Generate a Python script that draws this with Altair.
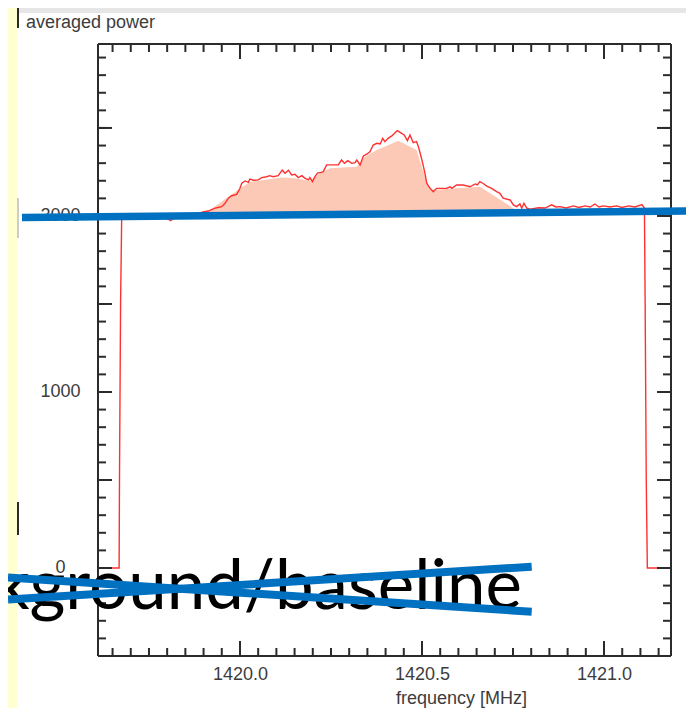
import altair as alt
import pandas as pd

# ---- data ----
freq = [1419.610, 1419.668, 1419.669, 1419.672, 1419.675, 1419.684, 1419.725, 1419.766, 1419.797, 1419.810,
        1419.821, 1419.849, 1419.876, 1419.898, 1419.913, 1419.927, 1419.936, 1419.950, 1419.959, 1419.968,
        1419.977, 1419.991, 1420.000, 1420.005, 1420.014, 1420.023, 1420.027, 1420.037, 1420.050, 1420.060,
        1420.073, 1420.082, 1420.091, 1420.105, 1420.116, 1420.124, 1420.133, 1420.142, 1420.151, 1420.160,
        1420.170, 1420.179, 1420.188, 1420.192, 1420.199, 1420.206, 1420.213, 1420.223, 1420.229, 1420.238,
        1420.256, 1420.270, 1420.279, 1420.287, 1420.296, 1420.307, 1420.316, 1420.321, 1420.330, 1420.339,
        1420.348, 1420.357, 1420.366, 1420.376, 1420.385, 1420.392, 1420.398, 1420.407, 1420.417, 1420.426,
        1420.432, 1420.441, 1420.451, 1420.460, 1420.467, 1420.476, 1420.485, 1420.490, 1420.495, 1420.502,
        1420.508, 1420.513, 1420.522, 1420.531, 1420.540, 1420.568, 1420.577, 1420.582, 1420.595, 1420.613,
        1420.632, 1420.646, 1420.652, 1420.659, 1420.667, 1420.678, 1420.691, 1420.705, 1420.714, 1420.723,
        1420.742, 1420.751, 1420.760, 1420.769, 1420.774, 1420.780, 1420.788, 1420.797, 1420.820, 1420.838,
        1420.856, 1420.868, 1420.879, 1420.896, 1420.916, 1420.931, 1420.948, 1420.962, 1420.975, 1420.986,
        1420.998, 1421.016, 1421.035, 1421.049, 1421.067, 1421.085, 1421.104, 1421.111, 1421.113, 1421.116,
        1421.119, 1421.184]
power = [0, 0, 500, 1500, 1980, 1989, 1994, 1994, 1989, 1973,
         1994, 2000, 2006, 2023, 2028, 2040, 2047, 2053, 2072, 2101,
         2115, 2123, 2157, 2186, 2199, 2191, 2210, 2203, 2205, 2218,
         2223, 2229, 2223, 2229, 2260, 2243, 2260, 2233, 2237, 2218,
         2229, 2214, 2205, 2218, 2195, 2223, 2243, 2248, 2252, 2290,
         2290, 2290, 2318, 2299, 2314, 2299, 2303, 2318, 2290, 2341,
         2351, 2365, 2403, 2413, 2409, 2441, 2422, 2441, 2455, 2473,
         2485, 2473, 2460, 2428, 2460, 2416, 2422, 2394, 2356, 2299,
         2243, 2186, 2157, 2138, 2157, 2157, 2166, 2157, 2176, 2176,
         2166, 2182, 2176, 2195, 2186, 2170, 2157, 2138, 2129, 2101,
         2091, 2063, 2053, 2068, 2044, 2072, 2044, 2038, 2047, 2045,
         2063, 2051, 2053, 2045, 2057, 2048, 2057, 2051, 2068, 2051,
         2057, 2051, 2057, 2048, 2057, 2051, 2065, 2045, 1500, 500,
         0, 0]

fill_freq = [1419.909, 1419.995, 1420.027, 1420.046, 1420.115, 1420.151, 1420.192, 1420.220, 1420.247, 1420.321,
             1420.343, 1420.376, 1420.435, 1420.485, 1420.508, 1420.522, 1420.659, 1420.751, 1420.761]
fill_top = [2023, 2148, 2193, 2199, 2218, 2214, 2199, 2243, 2271, 2280,
            2337, 2375, 2428, 2375, 2223, 2148, 2166, 2044, 2020]
fill_base = 2010

x_labels = [1420.0, 1420.5, 1421.0]
y_labels = [0, 1000, 2000]
x_major = [1420.0, 1420.5, 1421.0]
x_minor = [round(1419.65 + 0.05 * i, 2) for i in range(31)]
y_major = [0, 500, 1000, 1500, 2000, 2500]
y_minor = [-400 + 100 * i for i in range(34)]

X_DOMAIN = [1419.61, 1421.184]
Y_DOMAIN = [-500, 2977]
W, H = 573, 612
INK = "#2b2b2b"
LABEL = "#3c3c3c"

xs = alt.Scale(domain=X_DOMAIN, nice=False, zero=False)
ys = alt.Scale(domain=Y_DOMAIN, nice=False, zero=False)

line_df = pd.DataFrame({"freq": freq, "power": power})
fill_df = pd.DataFrame({"freq": fill_freq, "top": fill_top, "base": [fill_base] * len(fill_freq)})
one = pd.DataFrame({"k": [0]})

area = alt.Chart(fill_df).mark_area(color="#fcc9b6", opacity=1).encode(
    x=alt.X("freq:Q", scale=xs,
            axis=alt.Axis(values=x_labels, format=".1f", ticks=False, tickSize=0, domain=False, grid=False,
                          labelFont="Liberation Sans", labelFontSize=18, labelColor=LABEL,
                          labelPadding=23, labelBaseline="alphabetic",
                          title="frequency [MHz]", titleFont="Liberation Sans", titleFontSize=18,
                          titleFontWeight="normal", titleColor=LABEL, titleX=363, titleY=47,
                          titleAlign="center", titleBaseline="alphabetic")),
    y=alt.Y("top:Q", scale=ys,
            axis=alt.Axis(values=y_labels, format="d", ticks=False, tickSize=0, domain=False, grid=False,
                          labelFont="Liberation Sans", labelFontSize=18, labelColor=LABEL,
                          labelPadding=38, labelAlign="center", labelBaseline="middle", title="")),
    y2="base:Q",
)

line = alt.Chart(line_df).mark_line(color="#ff3030", strokeWidth=1.4).encode(
    x=alt.X("freq:Q", scale=xs), y=alt.Y("power:Q", scale=ys)
)


def xticks(vals, length):
    df = pd.DataFrame({"v": vals})
    bot = alt.Chart(df).mark_rule(color=INK, strokeWidth=2).encode(
        x=alt.X("v:Q", scale=xs), y=alt.value(H), y2=alt.value(H - length))
    top = alt.Chart(df).mark_rule(color=INK, strokeWidth=2).encode(
        x=alt.X("v:Q", scale=xs), y=alt.value(0), y2=alt.value(length))
    return [bot, top]


def yticks(vals, length):
    df = pd.DataFrame({"v": vals})
    left = alt.Chart(df).mark_rule(color=INK, strokeWidth=2).encode(
        y=alt.Y("v:Q", scale=ys), x=alt.value(0), x2=alt.value(length))
    right = alt.Chart(df).mark_rule(color=INK, strokeWidth=2).encode(
        y=alt.Y("v:Q", scale=ys), x=alt.value(W), x2=alt.value(W - length))
    return [left, right]


ticks = xticks(x_minor, 8) + xticks(x_major, 15) + yticks(y_minor, 8) + yticks(y_major, 14)


def rect(x, x2, y, y2, color):
    return alt.Chart(one).mark_rect(color=color).encode(
        x=alt.value(x), x2=alt.value(x2), y=alt.value(y), y2=alt.value(y2))


def seg(x, y, x2, y2, color, width):
    return alt.Chart(one).mark_rule(color=color, strokeWidth=width, strokeCap="butt").encode(
        x=alt.value(x), y=alt.value(y), x2=alt.value(x2), y2=alt.value(y2))


decor_back = [
    rect(-90, -81, -36, 664, "#ffffd0"),
    rect(-79, 590, -36, -31, "#e6e6e6"),
    rect(-81, -79, -36, -16, "#2a2a2a"),
    rect(-81, -79, 458, 491, "#2a2a2a"),
    seg(-80, 154, -80, 194, "#bbbbbb", 1.5),
]

# plot frame
frame = [
    seg(0, 0, W, 0, INK, 2),
    seg(0, H, W, H, INK, 2),
    seg(0, 0, 0, H, INK, 2),
    seg(W, 0, W, H, INK, 2),
]

title_txt = alt.Chart(one).mark_text(
    text="averaged power", font="Liberation Sans", fontSize=18, color=LABEL,
    align="left", baseline="alphabetic").encode(x=alt.value(-72), y=alt.value(-16))

blue_h = seg(-76, 173.5, 590, 167.0, "#0070c0", 7.5)

big = alt.Chart(one).mark_text(
    text="kground/baseline", font="Lato", fontSize=69, color="#000000",
    align="right", baseline="alphabetic").encode(x=alt.value(424), y=alt.value(565))

cross1 = seg(-90, 533.5, 433.7, 567.7, "#0070c0", 8)
cross2 = seg(-90, 555.5, 433.7, 522.7, "#0070c0", 8)

chart = alt.layer(
    *decor_back, area, line, *ticks, *frame, title_txt, blue_h, big, cross1, cross2
).properties(
    width=W, height=H,
    background="white",
    padding={"left": 90, "top": 36, "right": 15, "bottom": 52},
    autosize=alt.AutoSizeParams(type="none"),
).configure_view(
    strokeWidth=0
)

chart.save("out.html", embed_options={"renderer": "svg", "actions": False})
